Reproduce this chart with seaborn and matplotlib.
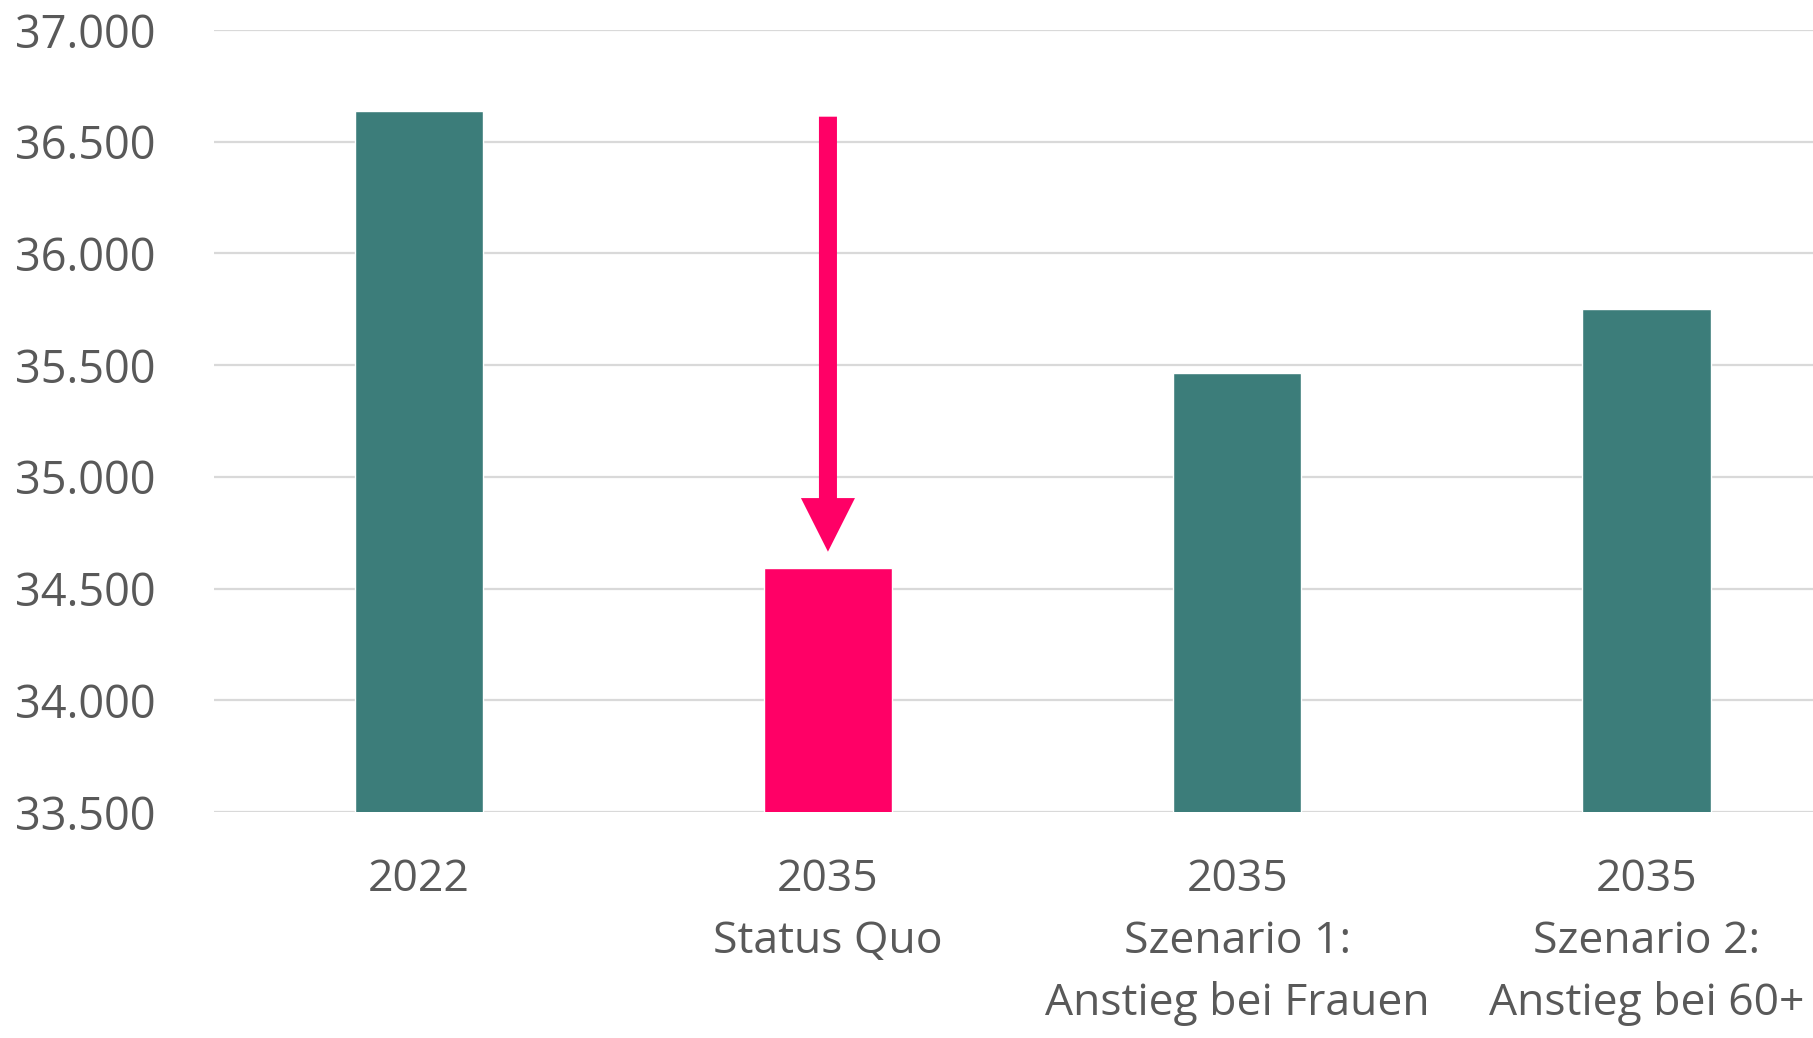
import matplotlib
matplotlib.use("Agg")
import matplotlib.pyplot as plt
import seaborn as sns
import pandas as pd

# Chart data
categories = ["2022", "2035\nStatus Quo", "2035\nSzenario 1:\nAnstieg bei Frauen",
              "2035\nSzenario 2:\nAnstieg bei 60+"]
values = [36637, 34592, 35466, 35751]
bar_colors = ["#3C7D7A", "#FF0066", "#3C7D7A", "#3C7D7A"]
y_ticks = [33500, 34000, 34500, 35000, 35500, 36000, 36500, 37000]

df = pd.DataFrame({"label": categories, "value": values})

sns.set_theme(style="white")
plt.rcParams["font.family"] = ["Open Sans", "DejaVu Sans"]

fig = plt.figure(figsize=(18.13, 10.38), dpi=100, facecolor="white")
ax = fig.add_axes([214 / 1813, 1 - 812 / 1038, 1599 / 1813, 782 / 1038])

sns.barplot(data=df, x="label", y="value", hue="label", palette=bar_colors,
            legend=False, width=0.313, saturation=1, ax=ax, zorder=2)

ax.set_ylim(y_ticks[0], y_ticks[-1])
ax.set_xlim(-0.5, -0.5 + 1599 / 409.3)
ax.set_yticks(y_ticks)
ax.set_yticklabels([f"{v:,}".replace(",", ".") for v in y_ticks])
ax.yaxis.grid(True, color="#D9D9D9", linewidth=1.6, zorder=0)
ax.set_axisbelow(True)
for s in ax.spines.values():
    s.set_visible(False)

ax.set_xlabel("")
ax.set_ylabel("")
ax.tick_params(axis="y", length=0, pad=42, labelsize=32.5, labelcolor="#595959")
ax.tick_params(axis="x", length=0, pad=33, labelsize=32, labelcolor="#595959")
for t in ax.get_xticklabels():
    t.set_linespacing(1.5)

# Pink arrow from the 2022 level down to the status-quo bar
start = values[0] - 25
tip = values[1] + 73
ax.arrow(1, start, 0, tip - start, width=0.044, head_width=0.132,
         head_length=240, length_includes_head=True, color="#FF0066",
         linewidth=0, zorder=3)

fig.savefig("out.png", dpi=100, facecolor="white")
